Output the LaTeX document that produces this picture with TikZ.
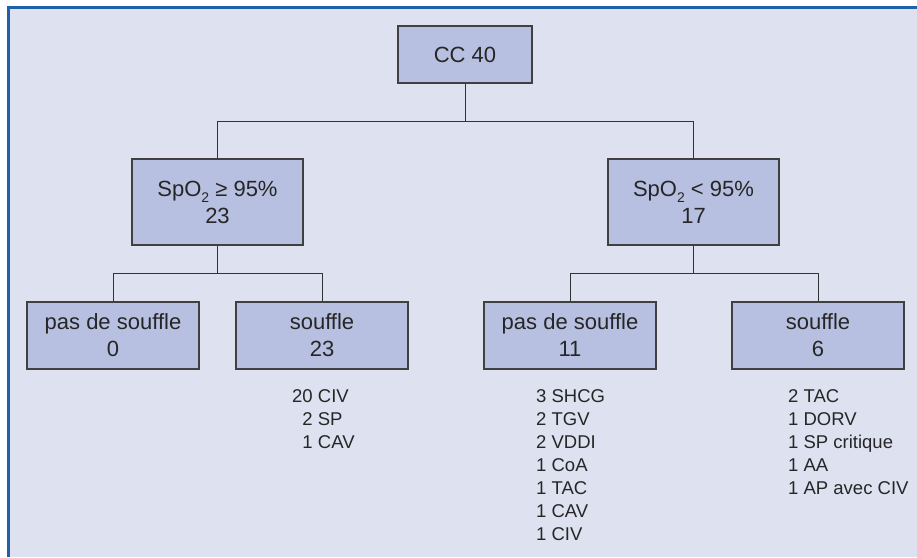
\documentclass[tikz,border=0pt]{standalone}
\usepackage{fontspec}
\setmainfont{Liberation Sans}
\definecolor{bgc}{HTML}{DEE1F0}
\definecolor{boxc}{HTML}{B7C0E0}
\definecolor{framec}{HTML}{2060A8}
\definecolor{edgec}{HTML}{404040}
\newcommand{\subtwo}{\raisebox{-6pt}{\fontsize{14}{14}\selectfont 2}}
\begin{document}
\begin{tikzpicture}[x=1pt,y=-1pt,
  box/.style={draw=edgec, line width=1.2pt, fill=boxc, align=center, inner sep=0pt,
    font=\fontsize{22}{27}\selectfont, text=black!85},
  lst/.style={anchor=north west, align=left, inner sep=0pt,
    font=\fontsize{18.5}{23}\selectfont, text=black!85},
  conn/.style={draw=black!80, line width=1pt}]
\useasboundingbox (0,0) rectangle (917,557);
\fill[white] (0,0) rectangle (917,557);
\fill[bgc] (9,8) rectangle (917,557);
\draw[framec, line width=2.2pt] (8.5,557) -- (8.5,7.5) -- (917,7.5);

\node[box, minimum width=134pt, minimum height=57pt] (cc) at (465,54.5) {CC 40};
\node[box, minimum width=171pt, minimum height=86pt] (L) at (217.5,202) {SpO\subtwo{} ≥ 95\%\\23};
\node[box, minimum width=171pt, minimum height=86pt] (R) at (693.5,202) {SpO\subtwo{} < 95\%\\17};
\node[box, minimum width=172pt, minimum height=67pt] (LL) at (113,335.5) {pas de souffle\\0};
\node[box, minimum width=172pt, minimum height=67pt] (LR) at (322,335.5) {souffle\\23};
\node[box, minimum width=172pt, minimum height=67pt] (RL) at (570,335.5) {pas de souffle\\11};
\node[box, minimum width=172pt, minimum height=67pt] (RR) at (818,335.5) {souffle\\6};

\coordinate (b0) at (465,121);
\coordinate (b1) at (217.5,273);
\coordinate (b2) at (693.5,273);
\draw[conn] (cc.south) -- (b0);
\draw[conn] (b0) -| (L.north);
\draw[conn] (b0) -| (R.north);
\draw[conn] (L.south) -- (b1);
\draw[conn] (b1) -| (LL.north);
\draw[conn] (b1) -| (LR.north);
\draw[conn] (R.south) -- (b2);
\draw[conn] (b2) -| (RL.north);
\draw[conn] (b2) -| (RR.north);

\node[lst] (l1) at (292,389) {20 CIV\\\phantom{2}2 SP\\\phantom{2}1 CAV};
\node[lst] (l2) at (536,389) {3 SHCG\\2 TGV\\2 VDDI\\1 CoA\\1 TAC\\1 CAV\\1 CIV};
\node[lst] (l3) at (788,389) {2 TAC\\1 DORV\\1 SP critique\\1 AA\\1 AP avec CIV};
\end{tikzpicture}
\end{document}
